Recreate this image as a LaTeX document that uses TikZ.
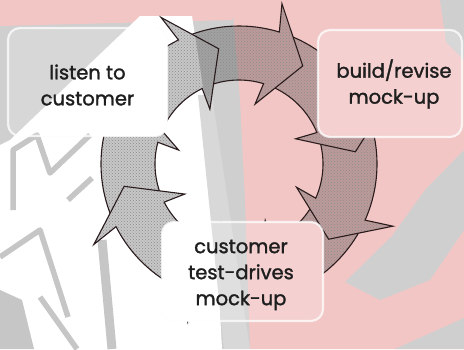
\documentclass[tikz,border=0pt]{standalone}
\usepackage{fontspec}
\setmainfont{Poppins}
\newfontfamily\boxfont{Poppins}[FakeBold=1.5]
\usetikzlibrary{calc,patterns}
\definecolor{bggray}{HTML}{CFCFCF}
\definecolor{bgpink}{HTML}{F3C6C6}
\definecolor{stripe}{HTML}{C6C6C6}
\definecolor{txt}{HTML}{1E1E1E}
\definecolor{outl}{HTML}{2A1C1C}
\pgfdeclarelayer{bglayer}
\pgfdeclarelayer{ringlayer}
\pgfdeclarelayer{boxlayer}
\pgfsetlayers{bglayer,ringlayer,boxlayer,main}
\newcommand{\bgdraw}{%
  \fill[bggray] (0,0) rectangle (464,349);
  \fill[bgpink] (0,0) -- (240,0) -- (232,20) -- (0,26) -- cycle;
  \fill[bgpink] (232,0) -- (464,0) -- (464,349) -- (250,349) -- (245,200) -- (240,100) -- cycle;
  \fill[bggray] (440,0) -- (464,0) -- (464,60) -- (446,42) -- cycle;
  \fill[bggray] (464,150) -- (464,230) -- (430,280) -- (380,300) -- (345,282) -- (392,236) -- (425,190) -- cycle;
  \fill[bggray] (395,349) -- (464,318) -- (464,349) -- cycle;
  \fill[white] (140,16) -- (192,16) -- (205,100) -- (215,220) -- (222,349) -- (0,349) -- (0,145) -- (10,140) -- cycle;
  \fill[bggray!80] (198,95) -- (212,95) -- (250,349) -- (224,349) -- cycle;
  \begin{scope}[stripe, line width=5.5pt, line join=round]
    \draw (13,210) -- (13,150) -- (37,135) -- (50,173) -- (90,135);
    \draw (0,257) -- (40,230) -- (68,317);
    \draw (68,200) -- (92,178);
    \draw (40,297) -- (77,349);
    \draw[line width=9pt] (102,240) -- (112,349);
    \fill (0,290) -- (22,300) -- (34,349) -- (0,349) -- cycle;
  \end{scope}
}
\tikzset{
  outlinestyle/.style={draw=outl, line width=1.1pt, line join=miter},
  boxtext/.style={align=center, font=\boxfont\fontsize{19.5}{26}\selectfont, text=txt,
    inner sep=0pt},
  boxedge/.style={draw=white, line width=2.2pt, draw opacity=0.75, rounded corners=12pt}
}
\newcommand{\arrowpath}[2]{($(c)+(#2:138pt)$) arc[start angle=#2, end angle=#1, radius=138pt]
    -- ($(c)+(\barbang:166pt)$) -- ($(c)+(\tipang:117pt)$)
    -- ($(c)+(\barbang:62pt)$) -- ($(c)+(#1:84pt)$)
    arc[start angle=#1, end angle=#2, radius=84pt] -- cycle}
\newcommand{\ringarrow}[2]{%
  \pgfmathsetmacro\tipang{#1-16}%
  \pgfmathsetmacro\barbang{#1+2}%
  \begin{scope}
    \clip \arrowpath{#1}{#2};
    \bgdraw
    \fill[black, opacity=0.22] (0,0) rectangle (464,349);
    \fill[pattern=crosshatch dots, pattern color=black!45] (0,0) rectangle (464,349);
  \end{scope}
  \path[outlinestyle] \arrowpath{#1}{#2};
}
\begin{document}
\begin{tikzpicture}[x=1pt, y=-1pt]
\useasboundingbox (0,0) rectangle (464,349);
\coordinate (c) at (239,164);
\begin{pgfonlayer}{bglayer}
  \bgdraw
\end{pgfonlayer}
\begin{pgfonlayer}{ringlayer}
  \foreach \b/\t in {-110/-72, -67/-29, -24/17, 22/68, 73/111, 116/160, 165/202, 207/245}
    {\ringarrow{\b}{\t}}
\end{pgfonlayer}
% boxes
\node[boxtext, minimum width=159pt, minimum height=108pt] (listen) at (87.5,85) {listen to\\customer};
\node[boxtext, minimum width=144pt, minimum height=107pt] (build) at (394,84) {build/revise\\mock-up};
\node[boxtext, minimum width=161pt, minimum height=99pt] (test) at (241,275) {customer\\test-drives\\mock-up};
\begin{pgfonlayer}{boxlayer}
  \begin{scope}
    \clip[rounded corners=12pt] (8,28) rectangle (167,136);
    \bgdraw
    \fill[white, opacity=0.18] (8,28) rectangle (167,136);
  \end{scope}
  \draw[boxedge] (8,28) rectangle (167,136);
  \begin{scope}
    \clip[rounded corners=12pt] (318,30) rectangle (462,137);
    \bgdraw
    \fill[white, opacity=0.18] (318,30) rectangle (462,137);
  \end{scope}
  \draw[boxedge] (318,30) rectangle (462,137);
  \begin{scope}
    \clip[rounded corners=12pt] (162,222) rectangle (323,321);
    \bgdraw
    \fill[white, opacity=0.18] (162,222) rectangle (323,321);
  \end{scope}
  \draw[boxedge] (162,222) rectangle (323,321);
\end{pgfonlayer}
\end{tikzpicture}
\end{document}
